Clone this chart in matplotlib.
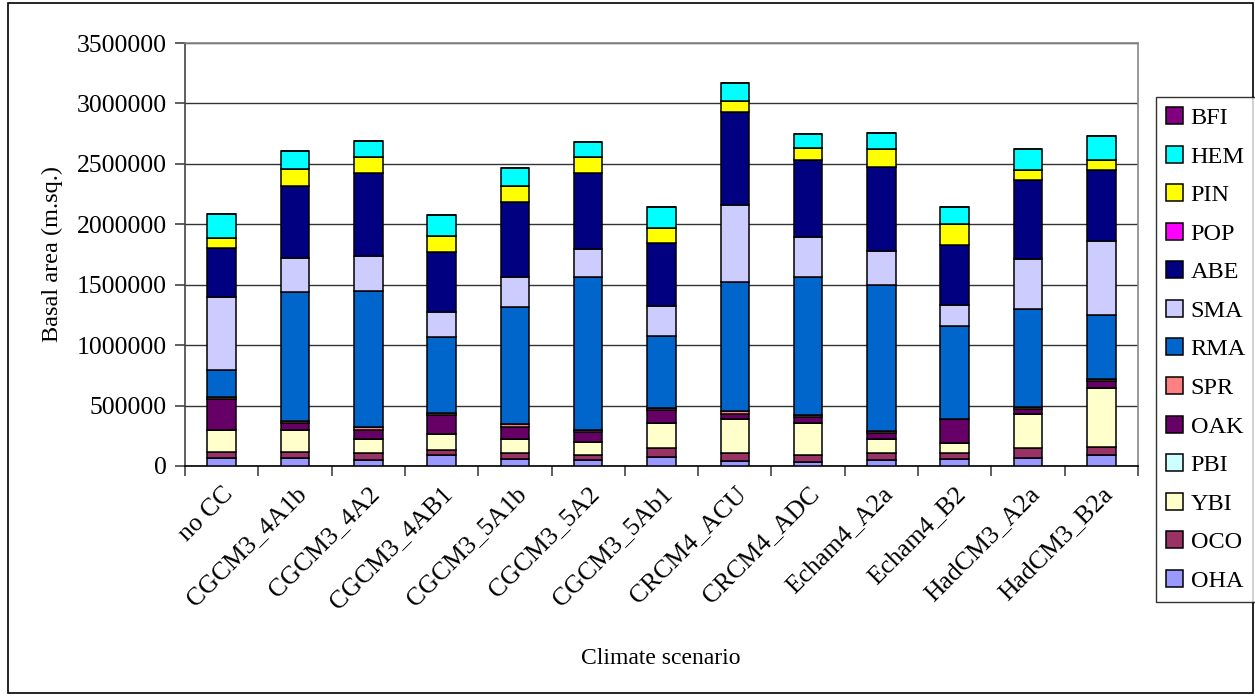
import numpy as np
import matplotlib
matplotlib.use("Agg")
import matplotlib.pyplot as plt
from matplotlib.patches import Rectangle

scenarios = ["no CC", "CGCM3_4A1b", "CGCM3_4A2", "CGCM3_4AB1", "CGCM3_5A1b",
             "CGCM3_5A2", "CGCM3_5Ab1", "CRCM4_ACU", "CRCM4_ADC", "Echam4_A2a",
             "Echam4_B2", "HadCM3_A2a", "HadCM3_B2a"]

# basal area by species (m.sq.), stacked bottom to top
OHA = [63000, 63000, 49000, 88000, 55000, 49000, 77000, 41000, 36000, 49000, 60000, 63000, 91000]
OCO = [55000, 55000, 55000, 44000, 49000, 42000, 69000, 63000, 55000, 55000, 44000, 83000, 68000]
YBI = [184000, 179000, 121000, 132000, 118000, 104000, 211000, 289000, 266000, 118000, 88000, 288000, 489000]
PBI = [0, 0, 0, 0, 0, 0, 0, 0, 0, 0, 0, 0, 0]
OAK = [250000, 55000, 77000, 156000, 102000, 88000, 104000, 41000, 49000, 52000, 193000, 36000, 52000]
SPR = [19000, 21000, 17000, 19000, 22000, 19000, 20000, 19000, 20000, 17000, 5000, 19000, 23000]
RMA = [226000, 1063000, 1131000, 627000, 967000, 1264000, 593000, 1066000, 1140000, 1209000, 769000, 810000, 527000]
SMA = [598000, 281000, 289000, 211000, 253000, 228000, 253000, 637000, 332000, 280000, 173000, 412000, 612000]
ABE = [412000, 598000, 684000, 495000, 618000, 629000, 521000, 775000, 632000, 697000, 494000, 659000, 591000]
POP = [0, 0, 0, 0, 0, 0, 0, 0, 0, 0, 0, 0, 0]
PIN = [83000, 146000, 131000, 129000, 131000, 131000, 119000, 90000, 101000, 143000, 173000, 80000, 77000]
HEM = [197000, 149000, 138000, 173000, 151000, 127000, 175000, 151000, 116000, 138000, 148000, 173000, 200000]
BFI = [0, 0, 0, 0, 0, 0, 0, 0, 0, 0, 0, 0, 0]

species = ["OHA", "OCO", "YBI", "PBI", "OAK", "SPR", "RMA", "SMA", "ABE", "POP", "PIN", "HEM", "BFI"]
series = [OHA, OCO, YBI, PBI, OAK, SPR, RMA, SMA, ABE, POP, PIN, HEM, BFI]
colors = ["#9999FF", "#993366", "#FFFFCC", "#CCFFFF", "#660066", "#FF8080", "#0066CC",
          "#CCCCFF", "#000080", "#FF00FF", "#FFFF00", "#00FFFF", "#800080"]

plt.rcParams['font.family'] = ['Liberation Serif', 'DejaVu Serif']

W, H = 1255, 696
fig = plt.figure(figsize=(W/100, H/100), dpi=100)
fig.patches.append(Rectangle((8/W, 3/H), (1253-8)/W, (693-3)/H, transform=fig.transFigure,
                             fill=False, edgecolor='black', linewidth=1.2))

ax = fig.add_axes([185/W, 1-466/H, (1138-185)/W, (466-43)/H])

x = np.arange(len(scenarios))
bottom = np.zeros(len(scenarios))
handles = []
for name, vals, c in zip(species, series, colors):
    vals = np.array(vals, dtype=float)
    b = ax.bar(x, vals, width=0.39, bottom=bottom, color=c, edgecolor='black',
               linewidth=1.1, label=name, zorder=3)
    handles.append(b)
    bottom += vals

ax.set_xlim(-0.5, len(scenarios)-0.5)
ax.set_ylim(0, 3500000)
yt = np.arange(0, 3500001, 500000)
ax.set_yticks(yt)
ax.set_yticklabels([str(v) for v in yt], fontsize=18.5)
ax.yaxis.grid(True, color='#333333', linewidth=1.0, zorder=0)
ax.set_axisbelow(True)

ax.set_xticks(x)
ax.set_xticklabels(scenarios, rotation=45, ha='right', rotation_mode='anchor', fontsize=18.5)
ax.tick_params(axis='x', length=0, pad=12)
ax.set_xticks(np.arange(len(scenarios)+1)-0.5, minor=True)
ax.tick_params(axis='x', which='minor', length=7, color='#444444', width=1.2)
ax.tick_params(axis='y', length=7, color='#444444', width=1.2, pad=6)

for s in ['top', 'right']:
    ax.spines[s].set_color('#888888')
ax.spines['left'].set_color('#444444')
ax.spines['bottom'].set_color('black')
for s in ax.spines.values():
    s.set_linewidth(1.2)

ax.set_ylabel("Basal area (m.sq.)", fontsize=17.5, labelpad=10)
fig.text(661/W, 1-658/H, "Climate scenario", fontsize=17, ha='center', va='center')

leg = fig.legend(handles[::-1], species[::-1], loc='upper left',
                 bbox_to_anchor=(1156/W, 1-97/H), fontsize=17.5, frameon=True,
                 fancybox=False, edgecolor='black', handlelength=0.7, handleheight=0.7,
                 handletextpad=0.3, labelspacing=0.68, borderpad=0.42, borderaxespad=0)
leg.get_frame().set_linewidth(1.0)

fig.savefig("out.png", dpi=100)
